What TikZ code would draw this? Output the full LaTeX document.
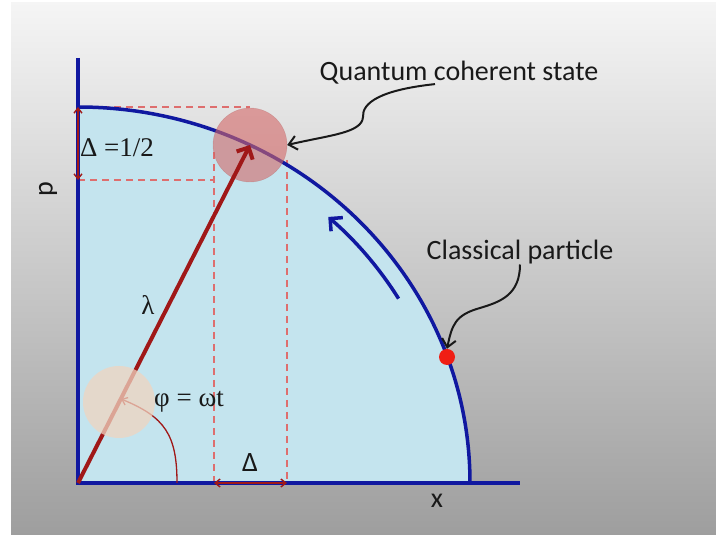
\documentclass[tikz,border=0pt]{standalone}
\usepackage{fontspec}
\setmainfont{Liberation Serif}
\newfontfamily\labelfont{Carlito}
\usetikzlibrary{arrows.meta,positioning}
\definecolor{axisblue}{RGB}{16,24,160}
\definecolor{phasefill}{RGB}{196,228,238}
\definecolor{vecred}{RGB}{160,24,24}
\definecolor{dashred}{RGB}{222,110,110}
\definecolor{blobred}{RGB}{212,104,104}
\definecolor{blobpeach}{RGB}{240,212,192}
\definecolor{dotred}{RGB}{240,30,20}

\begin{document}
\begin{tikzpicture}[x=1pt, y=1pt,
    axis/.style={draw=axisblue, line width=4pt},
    orbit/.style={draw=axisblue, line width=3.5pt},
    proj/.style={draw=dashred, line width=1.6pt, dash pattern=on 7pt off 5pt},
    vec/.style={-{Straight Barb[length=9pt, width=18pt, line width=4pt]}, draw=vecred, line width=4pt},
    spread/.style={{Straight Barb[length=5pt, width=8pt]}-{Straight Barb[length=5pt, width=8pt]}, draw=vecred, line width=1.4pt},
    callout/.style={-{Straight Barb[length=8pt, width=14pt]}, draw=black!90, line width=2pt},
    tag/.style={font=\labelfont\fontsize{28}{32}\selectfont, text=black!90},
    sym/.style={font=\fontsize{27}{31}\selectfont, text=black!90}
]
\useasboundingbox (0,0) rectangle (716,535);
\shade[top color=black!4, bottom color=black!38] (11,0) rectangle (716,532);

\coordinate (O) at (78,52);
\coordinate (ptop) at (78,428);
\coordinate (plow) at (78,355);

% phase space region
\fill[phasefill] (O) -- (ptop) arc[start angle=90, end angle=0, x radius=392pt, y radius=376pt] -- cycle;

% projections of the coherent state
\draw[proj] (ptop) -- (250,428);
\draw[proj] (plow) -- (214,355);
\draw[proj] (214,383) -- (214,52);
\draw[proj] (287,375) -- (287,52);

% axes and orbit
\draw[axis] (78,477) -- (O) -- (520,52);
\draw[orbit] (ptop) arc[start angle=90, end angle=0, x radius=392pt, y radius=376pt];
\draw[orbit, -{Straight Barb[length=9pt, width=18pt]}] (O) ++(31:374pt and 358pt)
    arc[start angle=31, end angle=48, x radius=374pt, y radius=358pt];

% coherent state
\node[circle, minimum size=74pt, fill=blobred, fill opacity=0.6, draw=blobred!80!black, draw opacity=0.3, inner sep=0pt] (qs) at (250,390) {};
\draw[vec] (O) -- (qs.center);

% phase angle
\draw[vecred, line width=1.3pt, -{Straight Barb[length=5pt, width=8pt]}] (177,52) .. controls (177,100) and (165,118) .. (121,136);
\node[circle, minimum size=72pt, fill=blobpeach, fill opacity=0.75, inner sep=0pt] (ps) at (119,133) {};

% widths
\draw[spread] (ptop) -- (plow);
\draw[spread] (214,52) -- (287,52);

% classical particle
\node[circle, minimum size=16pt, fill=dotred, inner sep=0pt] (cp) at (447,178) {};

% labels
\node[tag] (qlabel) at (459,462) {Quantum coherent state};
\node[tag] (clabel) at (520,283) {Classical particle};
\node[tag, rotate=90] (plabel) at (48,346) {p};
\node[tag] (xlabel) at (437,34) {x};
\node[tag] (dlabel) at (250,72) {Δ};
\node[sym] (hlabel) at (117,387) {Δ =1/2};
\node[sym] (lam) at (148,230) {λ};
\node[sym] (phase) at (189,133) {φ = ωt};

% callouts
\draw[callout] ([xshift=-24pt, yshift=4pt]qlabel.south) .. controls (380,445) and (362,432) .. (363,418)
    .. controls (362,402) and (330,400) .. (qs.east);
\draw[callout] ([yshift=3pt]clabel.south) .. controls (520,240) and (500,233) .. (480,227)
    .. controls (455,220) and (452,210) .. (cp.north);
\end{tikzpicture}
\end{document}
